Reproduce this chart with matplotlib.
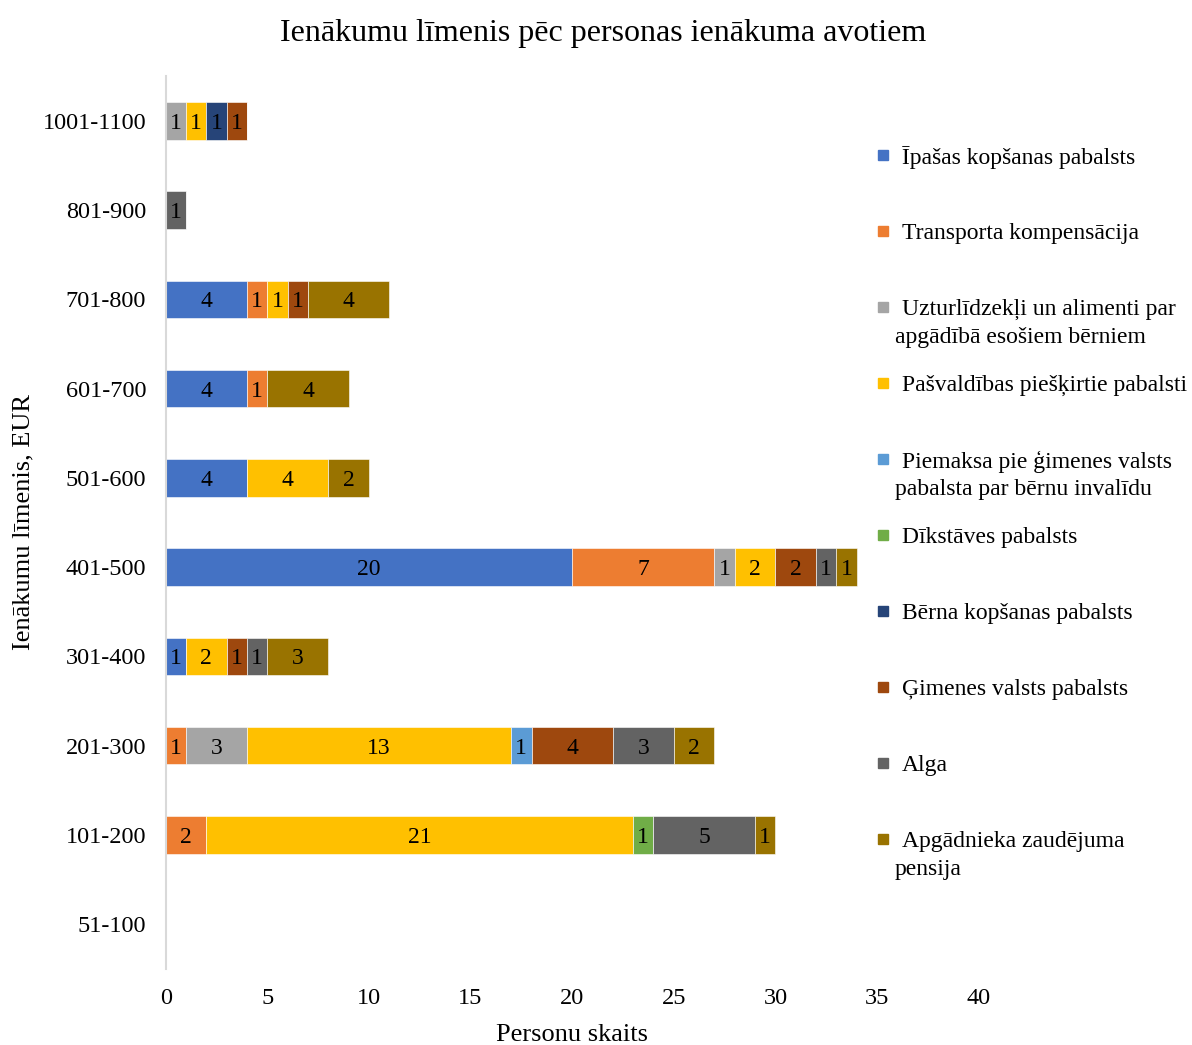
import numpy as np
import matplotlib.pyplot as plt
from matplotlib.patches import Rectangle

plt.rcParams['font.family'] = ['Liberation Serif', 'DejaVu Serif']

# income levels, bottom to top
categories = ['51-100', '101-200', '201-300', '301-400', '401-500',
              '501-600', '601-700', '701-800', '801-900', '1001-1100']

series_names = [
    'Īpašas kopšanas pabalsts',
    'Transporta kompensācija',
    'Uzturlīdzekļi un alimenti par\napgādībā esošiem bērniem',
    'Pašvaldības piešķirtie pabalsti',
    'Piemaksa pie ģimenes valsts\npabalsta par bērnu invalīdu',
    'Dīkstāves pabalsts',
    'Bērna kopšanas pabalsts',
    'Ģimenes valsts pabalsts',
    'Alga',
    'Apgādnieka zaudējuma\npensija',
]

ipasas      = [0, 0, 0, 1, 20, 4, 4, 4, 0, 0]
transports  = [0, 2, 1, 0, 7, 0, 1, 1, 0, 0]
uzturl      = [0, 0, 3, 0, 1, 0, 0, 0, 0, 1]
pasvald     = [0, 21, 13, 2, 2, 4, 0, 1, 0, 1]
piemaksa    = [0, 0, 1, 0, 0, 0, 0, 0, 0, 0]
dikstaves   = [0, 1, 0, 0, 0, 0, 0, 0, 0, 0]
berna       = [0, 0, 0, 0, 0, 0, 0, 0, 0, 1]
gimenes     = [0, 0, 4, 1, 2, 0, 0, 1, 0, 1]
alga        = [0, 5, 3, 1, 1, 0, 0, 0, 1, 0]
apgadnieka  = [0, 1, 2, 3, 1, 2, 4, 4, 0, 0]

series = [ipasas, transports, uzturl, pasvald, piemaksa,
          dikstaves, berna, gimenes, alga, apgadnieka]
colors = ['#4472C4', '#ED7D31', '#A5A5A5', '#FFC000', '#5B9BD5',
          '#70AD47', '#264478', '#9E480E', '#636363', '#997300']

W, H = 1192, 1045
fig = plt.figure(figsize=(W / 100, H / 100), dpi=100)
ax = fig.add_axes([0.139, 0.073, 0.682, 0.854])

y = np.arange(len(categories))
left = np.zeros(len(categories))
for vals, name, col in zip(series, series_names, colors):
    vals = np.array(vals, dtype=float)
    bars = ax.barh(y, vals, left=left, height=0.42, color=col,
                   edgecolor='white', linewidth=0.4)
    labels = [str(int(v)) if v > 0 else '' for v in vals]
    txts = ax.bar_label(bars, labels=labels, label_type='center', fontsize=17, color='black')
    for t in txts:
        t.set_va('center_baseline')
    left += vals

ax.set_xlim(0, 40)
ax.set_ylim(-0.5, len(categories) - 0.5)
ax.set_xticks(range(0, 41, 5))
ax.set_yticks(y)
ax.set_yticklabels(categories)
ax.tick_params(axis='both', length=0, labelsize=17.5)
ax.tick_params(axis='x', pad=14)
ax.tick_params(axis='y', pad=14)
for s in ['top', 'right', 'bottom']:
    ax.spines[s].set_visible(False)
ax.spines['left'].set_color('#D9D9D9')
ax.spines['left'].set_linewidth(1.5)

ax.set_xlabel('Personu skaits', fontsize=19, labelpad=11)
ax.set_ylabel('Ienākumu līmenis, EUR', fontsize=19, labelpad=6)
fig.suptitle('Ienākumu līmenis pēc personas ienākuma avotiem', fontsize=23,
             x=0.506, y=0.982)

# legend: Excel-style, entries start at equal steps, wrapped lines go below
step = 76
first = 155
for i, (name, col) in enumerate(zip(series_names, colors)):
    yc = first + i * step
    fig.patches.append(Rectangle(((878) / W, 1 - (yc + 5) / H), 10 / W, 10 / H,
                                 transform=fig.transFigure, color=col))
    for j, line in enumerate(name.split('\n')):
        xl = 902 if j == 0 else 895
        fig.text(xl / W, 1 - (yc + j * 28) / H, line, fontsize=17,
                 va='center_baseline', ha='left')

fig.savefig('out.png', dpi=100)
